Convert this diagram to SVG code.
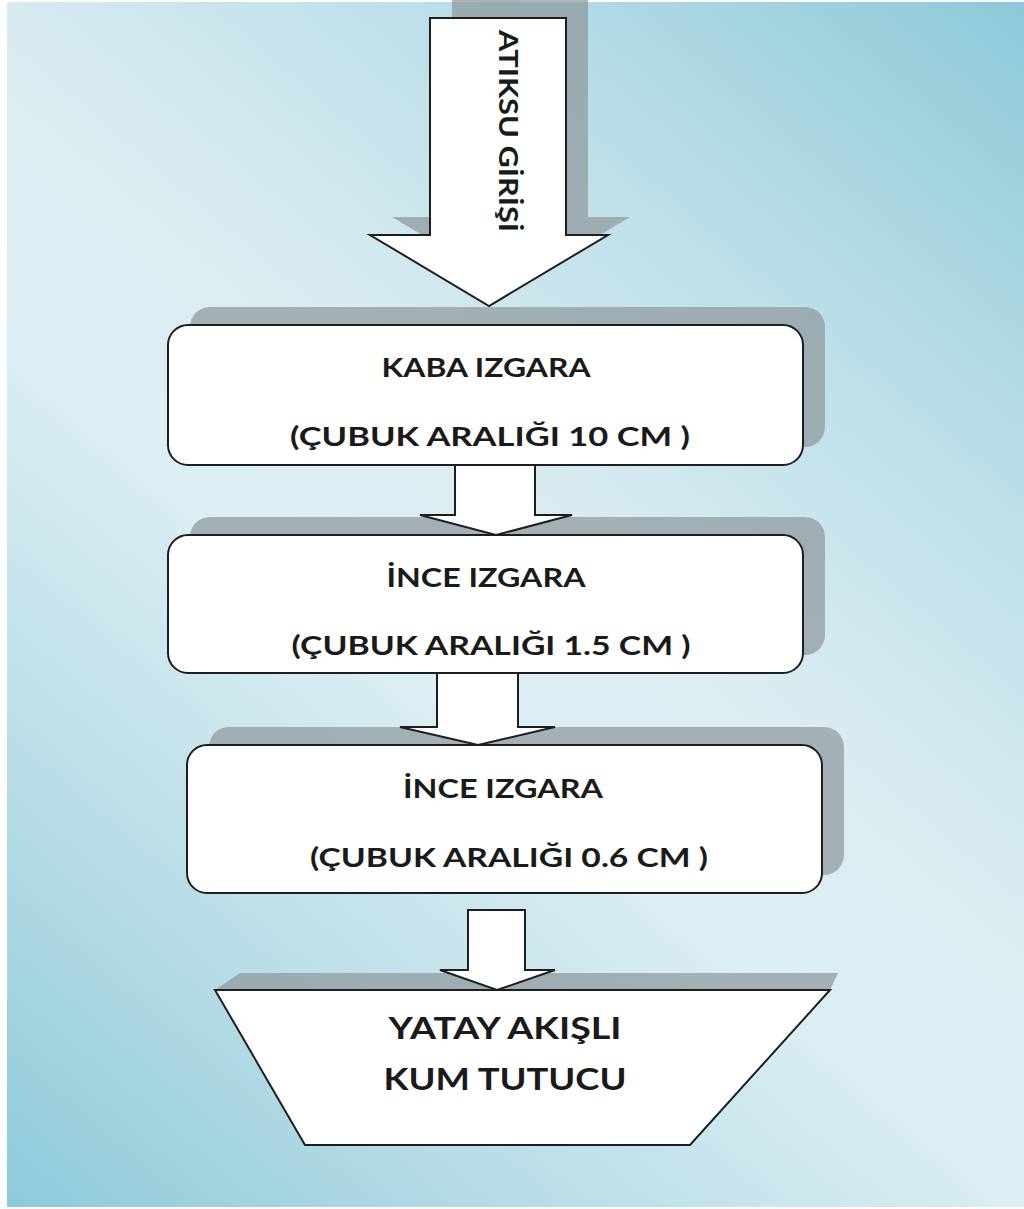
<svg xmlns="http://www.w3.org/2000/svg" width="1024" height="1209" viewBox="0 0 1024 1209">
  <defs>
    <linearGradient id="bg" gradientUnits="userSpaceOnUse" x1="1024" y1="0" x2="0" y2="1209">
      <stop offset="0" stop-color="#8cc9d8"/>
      <stop offset="0.22" stop-color="#b8dde7"/>
      <stop offset="0.45" stop-color="#dcedf2"/>
      <stop offset="0.58" stop-color="#dbeef3"/>
      <stop offset="0.78" stop-color="#b9dde7"/>
      <stop offset="1" stop-color="#8ccad9"/>
    </linearGradient>
    <style>
      .shadow { fill: #8f999c; fill-opacity: 0.72; }
      .shape { fill: #ffffff; stroke: #1e1e1e; stroke-width: 2; stroke-linejoin: miter; }
      .lbl { font-family: Lato, "Open Sans", "DejaVu Sans", sans-serif; font-weight: bold; font-size: 27px; fill: #1a1a1a; text-anchor: middle; }
      .big { font-size: 31px; }
    </style>
  </defs>

  <!-- page background -->
  <rect x="0" y="0" width="1024" height="1209" fill="#ffffff"/>
  <rect x="7" y="2" width="1017" height="1205" fill="url(#bg)"/>

  <!-- inflow arrow -->
  <g id="inflow">
    <polygon class="shadow" points="452,0 588,0 588,217 630,217 511,288 392,217 452,217"/>
    <polygon class="shape" points="430,18 566,18 566,235 608,235 489,306 370,235 430,235"/>
    <text class="lbl" transform="translate(499,131) rotate(90)" font-size="37" textLength="202" lengthAdjust="spacingAndGlyphs">ATIKSU GİRİŞİ</text>
  </g>

  <!-- coarse screen -->
  <g id="kaba-izgara">
    <rect class="shadow" x="190" y="307" width="635" height="140" rx="20"/>
    <rect class="shape" x="168" y="325" width="635" height="140" rx="20"/>
    <text class="lbl" x="486" y="377" textLength="209" lengthAdjust="spacingAndGlyphs">KABA IZGARA</text>
    <text class="lbl" x="490" y="446" textLength="400" lengthAdjust="spacingAndGlyphs">(ÇUBUK ARALIĞI 10 CM )</text>
  </g>

  <!-- fine screen 1.5 cm -->
  <g id="ince-izgara-1">
    <rect class="shadow" x="190" y="517" width="635" height="138" rx="20"/>
    <rect class="shape" x="168" y="535" width="635" height="138" rx="20"/>
    <text class="lbl" x="486" y="587" textLength="199" lengthAdjust="spacingAndGlyphs">İNCE IZGARA</text>
    <text class="lbl" x="491" y="655" textLength="399" lengthAdjust="spacingAndGlyphs">(ÇUBUK ARALIĞI 1.5 CM )</text>
  </g>

  <!-- fine screen 0.6 cm -->
  <g id="ince-izgara-2">
    <rect class="shadow" x="209" y="727" width="635" height="148" rx="20"/>
    <rect class="shape" x="187" y="745" width="635" height="148" rx="20"/>
    <text class="lbl" x="503" y="798" textLength="200" lengthAdjust="spacingAndGlyphs">İNCE IZGARA</text>
    <text class="lbl" x="509" y="867" textLength="398" lengthAdjust="spacingAndGlyphs">(ÇUBUK ARALIĞI 0.6 CM )</text>
  </g>

  <!-- grit chamber -->
  <g id="kum-tutucu">
    <polygon class="shadow" points="240,973 838,973 830,990 215,990"/>
    <polygon class="shape" points="215,990 830,990 690,1145 305,1145"/>
    <text class="lbl big" x="505" y="1039" textLength="233" lengthAdjust="spacingAndGlyphs">YATAY AKIŞLI</text>
    <text class="lbl big" x="505" y="1090" textLength="243" lengthAdjust="spacingAndGlyphs">KUM TUTUCU</text>
  </g>

  <!-- block arrows between stages, drawn over the shadows -->
  <g id="connectors">
    <polygon class="shape" points="455,465 535,465 535,515 572,515 496,535 420,515 455,515"/>
    <polygon class="shape" points="437,673 518,673 518,727 555,727 478,745 400,727 437,727"/>
    <polygon class="shape" points="468,910 525,910 525,970 555,970 497,990 440,970 468,970"/>
  </g>
</svg>
